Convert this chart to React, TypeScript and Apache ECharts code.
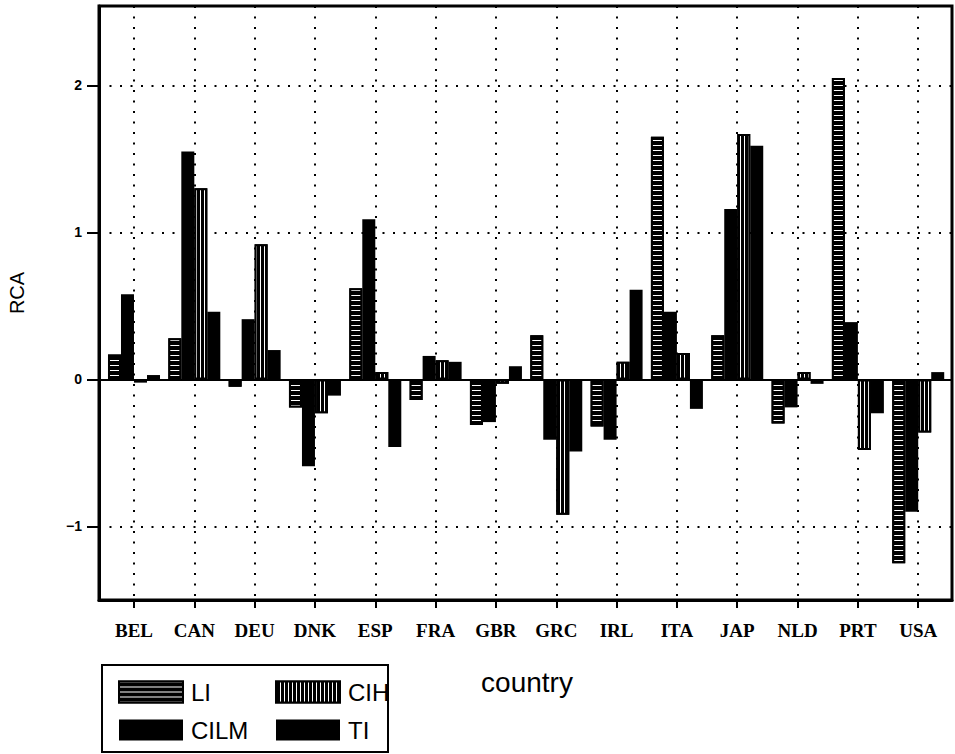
import React, { useEffect, useRef } from "react";
import * as echarts from "echarts";

const countries = ["BEL", "CAN", "DEU", "DNK", "ESP", "FRA", "GBR", "GRC", "IRL", "ITA", "JAP", "NLD", "PRT", "USA"];
const LI = [0.17, 0.28, -0.05, -0.19, 0.62, -0.14, -0.31, 0.3, -0.32, 1.65, 0.3, -0.3, 2.05, -1.25];
const CILM = [0.58, 1.55, 0.41, -0.59, 1.09, 0.16, -0.29, -0.41, -0.41, 0.46, 1.16, -0.19, 0.39, -0.9];
const CIH = [-0.02, 1.3, 0.92, -0.23, 0.05, 0.13, -0.03, -0.92, 0.12, 0.18, 1.67, 0.05, -0.48, -0.36];
const TI = [0.03, 0.46, 0.2, -0.11, -0.46, 0.12, 0.09, -0.49, 0.61, -0.2, 1.59, -0.03, -0.23, 0.05];
const yTicks = [-1, 0, 1, 2];

export default function App() {
  const ref = useRef<HTMLDivElement>(null);
  useEffect(() => {
    if (!ref.current) return;
    const chart = echarts.init(ref.current, null, { renderer: "svg" });
    const positions = countries.map((_, i) => i + 1);
    const toData = (arr: number[]) => arr.map((v, i) => [i + 1, v]);
    const dotted = { color: "#000", type: [2, 8.5] as any, width: 2 };
    const hStripe = {
      color: "#fff",
      symbol: "rect",
      symbolSize: 1,
      dashArrayX: [1, 0],
      dashArrayY: [1, 4],
      rotation: 0,
    };
    const vStripe = {
      color: "#fff",
      symbol: "rect",
      symbolSize: 1,
      dashArrayX: [1, 3],
      dashArrayY: [1, 0],
      rotation: 0,
    };
    const legendText = { fontFamily: "Liberation Sans", fontSize: 24, color: "#000", padding: [0, 0, 0, 3] };
    chart.setOption({
      animation: false,
      backgroundColor: "#fff",
      grid: { left: 99, right: 3, top: 6, bottom: 154, show: true, borderColor: "#000", borderWidth: 3, backgroundColor: "transparent" },
      xAxis: {
        type: "value",
        min: 0.42,
        max: 14.56,
        axisLine: { show: true, onZero: false, lineStyle: { color: "#000", width: 3 } },
        axisTick: { show: true, customValues: positions, length: 8, lineStyle: { color: "#000", width: 2 } },
        axisLabel: {
          customValues: positions,
          formatter: (v: number) => countries[Math.round(v) - 1] || "",
          fontFamily: "Liberation Serif",
          fontWeight: "bold",
          fontSize: 19,
          color: "#000",
          margin: 21,
        },
        splitLine: { show: true, lineStyle: dotted },
      },
      yAxis: {
        type: "value",
        min: -1.5,
        max: 2.54,
        axisLine: { show: true, onZero: false, lineStyle: { color: "#000", width: 3 } },
        axisTick: { show: true, customValues: yTicks, length: 12, lineStyle: { color: "#000", width: 2 } },
        axisLabel: {
          customValues: yTicks,
          formatter: (v: number) => (v < 0 ? "\u2212" + Math.abs(v) : String(v)),
          fontFamily: "Liberation Sans",
          fontWeight: "bold",
          fontSize: 14,
          color: "#000",
          margin: 17,
        },
        splitLine: { show: true, lineStyle: dotted },
      },
      legend: [
        {
          data: ["LI", "CILM"],
          orient: "vertical",
          left: 113,
          top: 675,
          itemWidth: 64,
          itemHeight: 21,
          itemGap: 14,
          icon: "rect",
          selectedMode: false,
          textStyle: legendText,
        },
        {
          data: ["CIH", "TI"],
          orient: "vertical",
          left: 270,
          top: 675,
          itemWidth: 64,
          itemHeight: 21,
          itemGap: 14,
          icon: "rect",
          selectedMode: false,
          textStyle: legendText,
        },
      ],
      graphic: [
        {
          type: "rect",
          shape: { x: 102, y: 665, width: 286, height: 87 },
          style: { fill: "none", stroke: "#000", lineWidth: 2 },
          silent: true,
        },
        {
          type: "text",
          x: 17,
          y: 293,
          rotation: Math.PI / 2,
          style: { text: "RCA", font: '20px "Liberation Sans"', fill: "#000", align: "center", verticalAlign: "middle" },
        },
        {
          type: "text",
          x: 527,
          y: 682,
          style: { text: "country", font: '28px "Liberation Sans"', fill: "#000", align: "center", verticalAlign: "middle" },
        },
      ],
      series: [
        {
          name: "LI",
          type: "bar",
          data: toData(LI),
          barWidth: 13,
          barGap: "0%",
          itemStyle: { color: "#000", borderColor: "#000", borderWidth: 2, decal: hStripe },
          markLine: {
            silent: true,
            symbol: ["none", "none"],
            label: { show: false },
            lineStyle: { color: "#000", type: "solid", width: 2 },
            data: [{ yAxis: 0 }],
          },
        },
        {
          name: "CILM",
          type: "bar",
          data: toData(CILM),
          barWidth: 13,
          barGap: "0%",
          itemStyle: { color: "#000" },
        },
        {
          name: "CIH",
          type: "bar",
          data: toData(CIH),
          barWidth: 13,
          barGap: "0%",
          itemStyle: { color: "#000", borderColor: "#000", borderWidth: 2, decal: vStripe },
        },
        {
          name: "TI",
          type: "bar",
          data: toData(TI),
          barWidth: 13,
          barGap: "0%",
          itemStyle: { color: "#000" },
        },
      ],
    });
    return () => chart.dispose();
  }, []);
  return <div ref={ref} style={{ position: "absolute", left: 0, top: 0, width: 955, height: 754 }} />;
}
